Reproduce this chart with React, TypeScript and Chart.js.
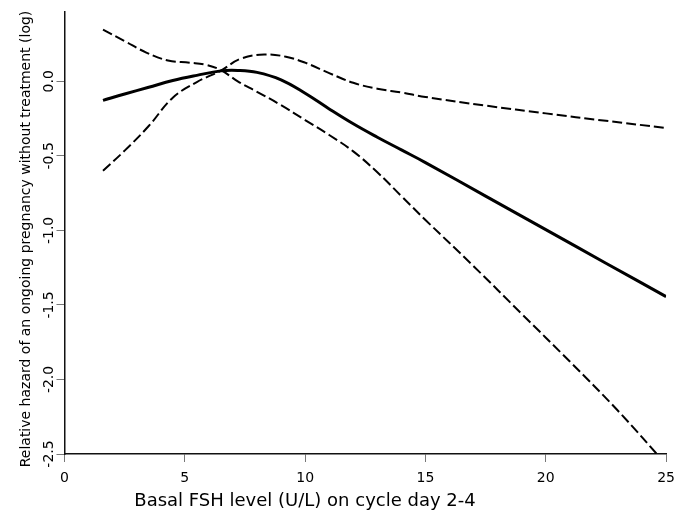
import React, { useEffect, useRef } from "react";
import { Chart, registerables } from "chart.js";

Chart.register(...registerables);

// FSH level (U/L) sample points for each curve
const estimateX = [1.6, 2.5, 3.5, 4.5, 5.5, 6.5, 7.2, 8, 9, 10, 11, 12, 13, 14, 15, 17.5, 20, 22.5, 25];
const estimateY = [-0.128, -0.085, -0.04, 0.005, 0.04, 0.07, 0.073, 0.06, 0.01, -0.08, -0.185, -0.285, -0.375, -0.46, -0.545, -0.77, -0.995, -1.22, -1.444];

const boundAX = [1.6, 2.5, 3.4, 4.3, 5.2, 5.9, 6.5, 7.2, 8, 9, 10, 11, 12, 13, 14, 15, 17, 19, 21, 23, 25];
const boundAY = [0.347, 0.27, 0.193, 0.14, 0.125, 0.11, 0.075, 0.0, -0.07, -0.16, -0.26, -0.36, -0.47, -0.61, -0.77, -0.93, -1.24, -1.56, -1.88, -2.21, -2.57];

const boundBX = [1.6, 2.5, 3.5, 4.5, 5.5, 6.5, 7.3, 8.3, 9.2, 10, 11, 12, 13, 14, 15, 17.5, 20, 22.5, 25];
const boundBY = [-0.6, -0.465, -0.3, -0.11, -0.005, 0.072, 0.15, 0.18, 0.165, 0.125, 0.055, -0.01, -0.05, -0.075, -0.105, -0.163, -0.215, -0.265, -0.313];

const xTickValues = [0, 5, 10, 15, 20, 25];
const yTickValues = [-2.5, -2.0, -1.5, -1.0, -0.5, 0.0];

const xTitle = "Basal FSH level (U/L) on cycle day 2-4";
const yTitle = "Relative hazard of an ongoing pregnancy without treatment (log)";

const FONT = '"DejaVu Sans", Verdana, sans-serif';

function toPoints(xs: number[], ys: number[]) {
  return xs.map((x, i) => ({ x, y: ys[i] }));
}

const titlePlugin = {
  id: "axisTitles",
  afterDraw(chart: any) {
    const ctx = chart.ctx;
    const area = chart.chartArea;
    ctx.save();
    ctx.fillStyle = "#000";
    ctx.font = `18px ${FONT}`;
    ctx.textAlign = "center";
    ctx.textBaseline = "alphabetic";
    ctx.fillText(xTitle, area.left + 240.5, area.bottom + 52);
    ctx.translate(30, area.top + 227);
    ctx.rotate(-Math.PI / 2);
    ctx.font = `14px ${FONT}`;
    ctx.fillText(yTitle, 0, 0);
    ctx.restore();
  },
};

export default function App() {
  const canvasRef = useRef<HTMLCanvasElement | null>(null);

  useEffect(() => {
    if (!canvasRef.current) return;
    const lineBase = { borderColor: "#000", pointRadius: 0, tension: 0.4, fill: false };
    const chart = new Chart(canvasRef.current, {
      type: "line",
      data: {
        datasets: [
          { ...lineBase, data: toPoints(estimateX, estimateY), borderWidth: 3 },
          { ...lineBase, data: toPoints(boundAX, boundAY), borderWidth: 2, borderDash: [10, 4] },
          { ...lineBase, data: toPoints(boundBX, boundBY), borderWidth: 2, borderDash: [10, 4] },
        ],
      },
      options: {
        animation: false,
        responsive: false,
        events: [],
        layout: { padding: { left: 0, top: 12, right: 10.5, bottom: 0 } },
        plugins: { legend: { display: false }, tooltip: { enabled: false } },
        scales: {
          x: {
            type: "linear",
            min: 0,
            max: 25,
            afterFit: (s: any) => {
              s.height = 60;
            },
            afterBuildTicks: (s: any) => {
              s.ticks = xTickValues.map((v) => ({ value: v }));
            },
            ticks: {
              color: "#000",
              font: { family: FONT, size: 14 },
              padding: 8,
              maxRotation: 0,
              callback: (v: any) => String(v),
            },
            grid: { drawOnChartArea: false, drawTicks: true, tickLength: 8, color: "#777", lineWidth: 1 },
            border: { display: true, color: "#111", width: 1.5 },
          },
          y: {
            type: "linear",
            min: -2.5,
            max: 0.465,
            afterFit: (s: any) => {
              s.width = 64.5;
            },
            afterBuildTicks: (s: any) => {
              s.ticks = yTickValues.map((v) => ({ value: v }));
            },
            ticks: {
              color: "#000",
              font: { family: FONT, size: 14 },
              padding: -7,
              minRotation: 90,
              maxRotation: 90,
              crossAlign: "center",
              callback: (v: any) => Number(v).toFixed(1),
            },
            grid: { drawOnChartArea: false, drawTicks: true, tickLength: 8, color: "#777", lineWidth: 1 },
            border: { display: true, color: "#111", width: 1.5 },
          },
        },
      },
      plugins: [titlePlugin],
    } as any);
    return () => chart.destroy();
  }, []);

  return (
    <div style={{ position: "absolute", left: 0, top: 0, width: 683, height: 514, background: "#fff" }}>
      <canvas ref={canvasRef} width={683} height={514} style={{ display: "block" }} />
    </div>
  );
}
